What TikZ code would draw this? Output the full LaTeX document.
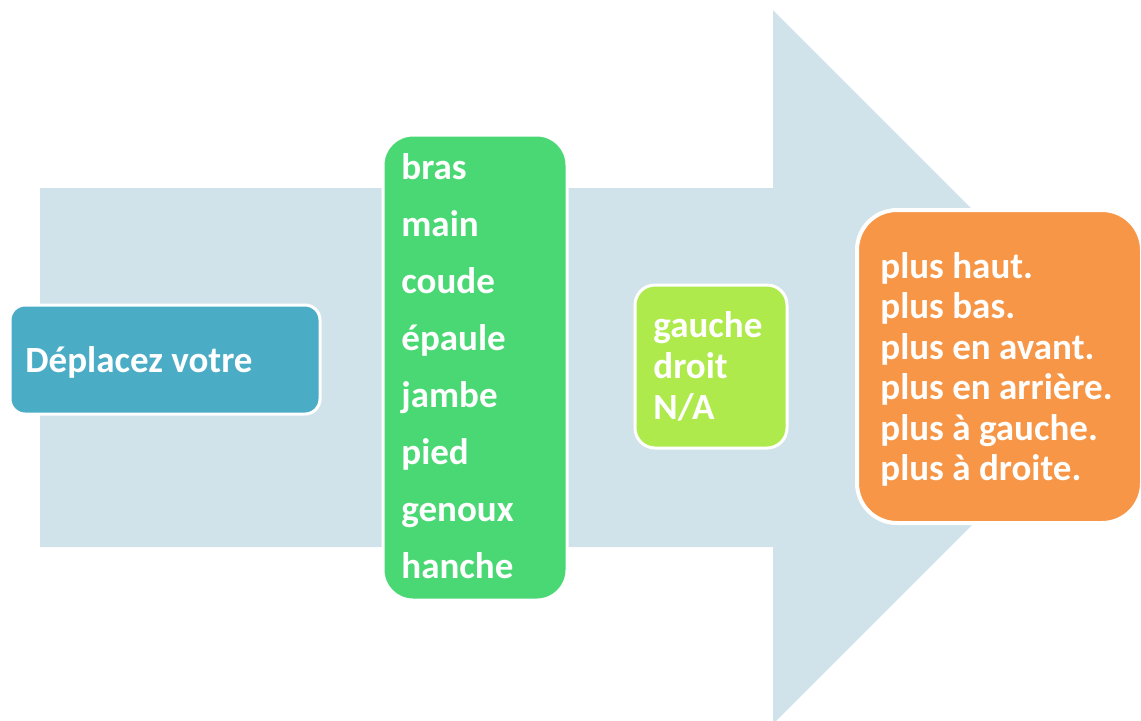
\documentclass[tikz,border=0pt]{standalone}
\usepackage{fontspec}
\setmainfont{Carlito}
\definecolor{bandC}{HTML}{D1E3EA}
\definecolor{blueC}{HTML}{4BACC6}
\definecolor{greenC}{HTML}{4AD874}
\definecolor{limeC}{HTML}{AEEA4C}
\definecolor{orangeC}{HTML}{F79646}
\begin{document}
\begin{tikzpicture}[x=0.5pt,y=-0.5pt,
  box/.style={draw=white,line width=1.5pt,inner sep=0pt,outer sep=0pt},
  lbl/.style={anchor=base west,inner sep=0pt,text=white,font=\fontsize{18.5}{20}\selectfont\bfseries}]
\useasboundingbox (0,0) rectangle (1141,720);
\clip (0,0) rectangle (1141,720);
\fill[bandC] (40,188) -- (773,188) -- (773,10) -- (1130,367) -- (773,724) -- (773,547) -- (40,547) -- cycle;
% boxes
\node[box,fill=blueC,minimum width=155pt,minimum height=54.5pt,rounded corners=7.5pt] (b1) at (165,359.5) {};
\node[box,fill=greenC,minimum width=92pt,minimum height=232.5pt,rounded corners=15pt] (b2) at (475,367.5) {};
\node[box,fill=limeC,minimum width=76pt,minimum height=81.5pt,rounded corners=10pt] (b3) at (711,366.5) {};
\node[box,fill=orangeC,line width=2pt,minimum width=142.5pt,minimum height=156.5pt,rounded corners=20pt] (b4) at (999.5,366.5) {};
% texts
\node[lbl] (t1) at (25,372) {Déplacez votre};
\node[lbl] (g1) at (401,179) {bras};
\node[lbl] (g2) at (401,236) {main};
\node[lbl] (g3) at (401,293) {coude};
\node[lbl] (g4) at (401,350) {épaule};
\node[lbl] (g5) at (401,407) {jambe};
\node[lbl] (g6) at (401,464) {pied};
\node[lbl] (g7) at (401,521) {genoux};
\node[lbl] (g8) at (401,578) {hanche};
\node[lbl] (l1) at (653,337) {gauche};
\node[lbl] (l2) at (653,378) {droit};
\node[lbl] (l3) at (653,419) {N/A};
\node[lbl] (o1) at (880,278) {plus haut.};
\node[lbl] (o2) at (880,318.5) {plus bas.};
\node[lbl] (o3) at (880,359) {plus en avant.};
\node[lbl] (o4) at (880,399.5) {plus en arrière.};
\node[lbl] (o5) at (880,440) {plus à gauche.};
\node[lbl] (o6) at (880,480.5) {plus à droite.};
\end{tikzpicture}
\end{document}
